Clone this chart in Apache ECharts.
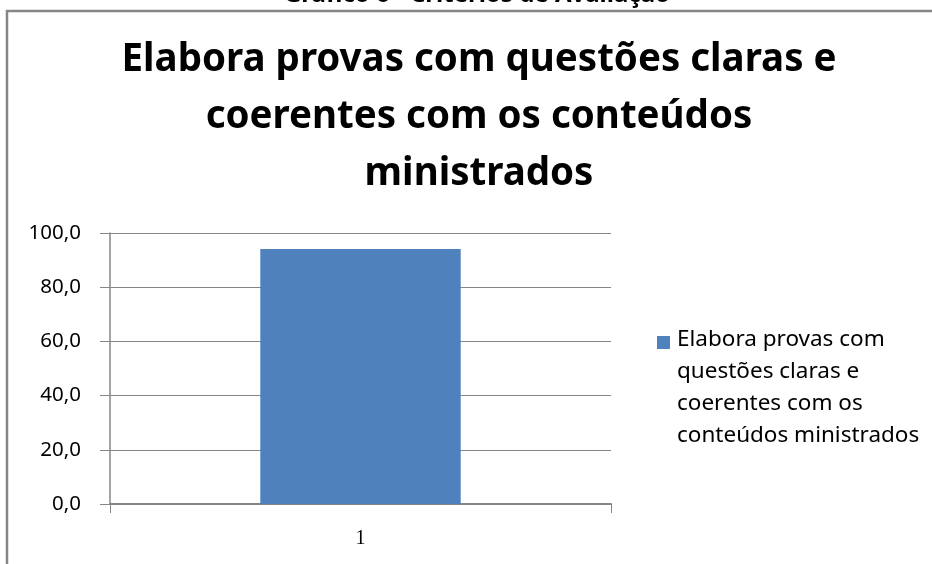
<!DOCTYPE html>
<html>
<head>
<meta charset="utf-8">
<script src="https://cdn.jsdelivr.net/npm/echarts@6/dist/echarts.min.js"></script>
<style>
	html, body { margin: 0; padding: 0; background: #fff; }
	#main { width: 932px; height: 564px; }
</style>
</head>
<body>
<div id="main"></div>
<script>
	/* dados do gráfico */
	var categories = ['1'];
	var seriesName = 'Elabora provas com questões claras e coerentes com os conteúdos ministrados';
	var seriesValues = [94.1];
	var legendLines = ['Elabora provas com', 'questões claras e', 'coerentes com os', 'conteúdos ministrados'];
	var titleLines = ['Elabora provas com questões claras e', 'coerentes com os conteúdos', 'ministrados'];

	var axisGrey = '#868686';
	var font = 'Noto Sans';

	var option = {
		backgroundColor: '#ffffff',
		animation: false,
		title: {
			text: titleLines.join('\n'),
			left: 474,
			top: 27,
			textAlign: 'center',
			textStyle: {
				fontFamily: font,
				fontSize: 38.5,
				fontWeight: 'bold',
				color: '#000',
				lineHeight: 57
			}
		},
		legend: {
			left: 657,
			top: 324,
			padding: 0,
			orient: 'vertical',
			itemWidth: 13,
			itemHeight: 120,
			itemGap: 0,
			// quadrado alinhado com a primeira linha do texto
			icon: 'path://M0,0 L13,0 M0,8 L13,8 L13,21 L0,21 Z M0,120 L13,120',
			formatter: function() {
				return legendLines.join('\n');
			},
			textStyle: {
				fontFamily: font,
				fontSize: 22.5,
				color: '#000',
				lineHeight: 32,
				padding: [0, 0, 0, 2]
			},
			data: [seriesName]
		},
		grid: {
			left: 110,
			right: 321,
			top: 233,
			bottom: 60
		},
		xAxis: {
			type: 'category',
			data: categories,
			axisLine: { lineStyle: { color: axisGrey, width: 2 } },
			axisTick: { show: true, length: 9, lineStyle: { color: axisGrey, width: 1 } },
			axisLabel: { fontFamily: 'Liberation Serif', fontSize: 20, color: '#000', margin: 25 }
		},
		yAxis: {
			type: 'value',
			min: 0,
			max: 100,
			interval: 20,
			axisLine: { show: true, lineStyle: { color: axisGrey, width: 1.5 } },
			axisTick: { show: true, length: 10, lineStyle: { color: axisGrey } },
			splitLine: { lineStyle: { color: axisGrey, width: 1 } },
			axisLabel: {
				fontFamily: font,
				fontSize: 20.5,
				color: '#000',
				margin: 29,
				formatter: function(v) {
					return v.toFixed(1).replace('.', ',');
				}
			}
		},
		graphic: [{
			type: 'rect',
			shape: { x: 7, y: 11, width: 1000, height: 700 },
			style: { fill: 'none', stroke: axisGrey, lineWidth: 2.5 },
			silent: true
		}, {
			type: 'text',
			x: 477,
			y: -17,
			style: {
				text: 'Gráfico 6 - Critérios de Avaliação',
				fontFamily: font,
				fontSize: 24,
				fontWeight: 'bold',
				fill: '#000',
				textAlign: 'center',
				textVerticalAlign: 'top'
			},
			silent: true
		}],
		series: [{
			name: seriesName,
			type: 'bar',
			barWidth: '40%',
			itemStyle: { color: '#4f81bd' },
			data: seriesValues
		}]
	};

	var chart = echarts.init(document.getElementById('main'));
	chart.setOption(option);
</script>
</body>
</html>
